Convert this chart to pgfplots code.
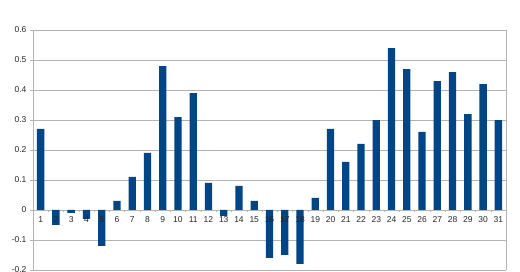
\documentclass[border=0pt]{standalone}
\usepackage{pgfplots}
\pgfplotsset{compat=1.18}
\usepackage{fontspec}
\setmainfont{Liberation Sans}
\definecolor{barblue}{RGB}{0,69,134}
\definecolor{gridgray}{RGB}{179,179,179}
\pgfplotsset{
  common/.style={
    at={(33pt,2pt)}, anchor=south west,
    scale only axis, width=473pt, height=240pt,
    xmin=0.5, xmax=31.5, ymin=-0.2, ymax=0.6,
    tick label style={font=\fontsize{8.5}{10}\selectfont, text=black!85},
    clip=false,
  }
}
\begin{document}
\begin{tikzpicture}[x=1pt,y=1pt]
\useasboundingbox (0,0) rectangle (520,272);
\begin{axis}[
  common,
  axis x line*=middle, axis y line*=left,
  axis line style={gridgray},
  xtick={1,...,31}, xticklabels={},
  minor xtick={0.5,1.5,...,31.5},
  major x tick style={draw=none},
  minor x tick style={gridgray},
  minor tick length=2.5pt,
  major tick length=2.5pt,
  tick align=outside,
  ytick={-0.2,-0.1,0,0.1,0.2,0.3,0.4,0.5,0.6},
  /pgf/number format/.cd, fixed, precision=1, assume math mode=true, /pgfplots/.cd,
  y tick style={gridgray},
  ymajorgrids, grid style={gridgray, line width=0.6pt},
  yticklabel style={xshift=-0.5pt},
]
\addplot[ybar, bar width=7.3pt, fill=barblue, draw=none] coordinates {
(1,0.27) (2,-0.05) (3,-0.01) (4,-0.03) (5,-0.12) (6,0.03) (7,0.11) (8,0.19)
(9,0.48) (10,0.31) (11,0.39) (12,0.09) (13,-0.02) (14,0.08) (15,0.03)
(16,-0.16) (17,-0.15) (18,-0.18) (19,0.04) (20,0.27) (21,0.16) (22,0.22)
(23,0.30) (24,0.54) (25,0.47) (26,0.26) (27,0.43) (28,0.46) (29,0.32)
(30,0.42) (31,0.30)};
\draw[gridgray, line width=0.6pt] (rel axis cs:0,1) -- (rel axis cs:1,1) -- (rel axis cs:1,0);
\end{axis}
\begin{axis}[
  common,
  axis x line*=middle, axis y line=none,
  x axis line style={draw=none},
  xtick={1,...,31},
  major x tick style={draw=none},
  major tick length=2.5pt,
  tick align=outside,
  ytick=\empty,
  /pgf/number format/assume math mode=true,
  xticklabel style={yshift=-1pt},
]
\end{axis}
\end{tikzpicture}
\end{document}
